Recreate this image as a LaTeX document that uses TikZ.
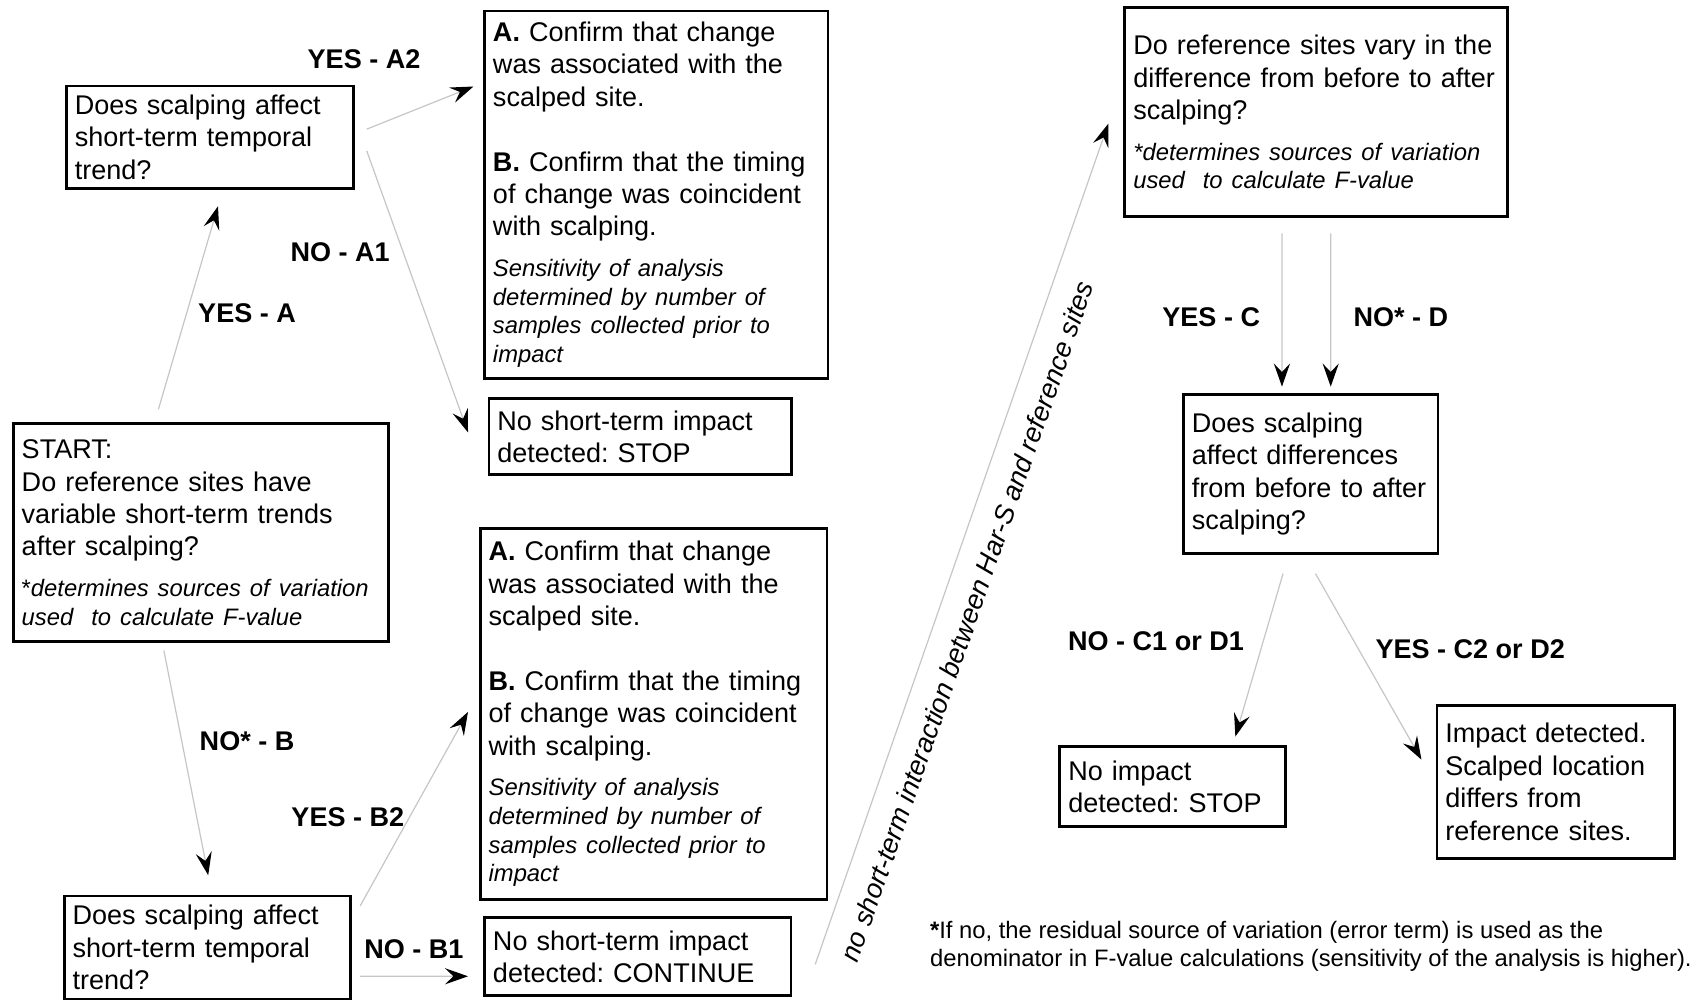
\documentclass[tikz,border=0pt]{standalone}
\usepackage{fontspec}
\setmainfont{Liberation Sans}
\usetikzlibrary{arrows.meta,positioning}

\newcommand{\itnote}{\fontsize{8.8}{10.6}\selectfont\itshape}
\hyphenpenalty=10000
\exhyphenpenalty=10000
\frenchspacing

\begin{document}
\begin{tikzpicture}[
    font=\fontsize{10}{12}\selectfont,
    qbox/.style={draw, line width=1pt, align=left, anchor=north west, inner xsep=0.11cm, inner ysep=0.05cm},
    lab/.style={font=\fontsize{10}{12}\selectfont\bfseries},
    flow/.style={draw=gray!45, line width=0.45pt, -{Stealth[length=3mm,width=2.1mm,inset=1.1mm,black]}}
  ]
  \useasboundingbox (0,0) rectangle (22.09,13.0);

  % --- Left: start and the two short-term questions ---
  \node[qbox, text width=4.654cm, minimum height=2.831cm] (start) at (0.155,7.508)
    {START:\\ Do reference sites have\\ variable short-term trends\\ after scalping?\par\vspace{4.4pt}%
     {\itnote{\upshape *}determines sources of variation\\ used\ \ to calculate F-value\par}};
  \node[qbox, text width=3.513cm, minimum height=1.338cm] (q1) at (0.845,11.901)
    {Does scalping affect\\ short-term temporal\\ trend?};
  \node[qbox, text width=3.499cm, minimum height=1.338cm] (q2) at (0.817,1.366)
    {Does scalping affect\\ short-term temporal\\ trend?};

  % --- Middle: what to confirm, and the short-term outcomes ---
  \node[qbox, text width=4.246cm, minimum height=4.775cm] (confA) at (6.282,12.875)
    {\textbf{A.} Confirm that change\\ was associated with the\\ scalped site.\\[12pt]
     \textbf{B.} Confirm that the timing\\ of change was coincident\\ with scalping.\par\vspace{4.4pt}%
     {\itnote Sensitivity of analysis\\ determined by number of\\ samples collected prior to\\ impact\par}};
  \node[qbox, text width=3.71cm, minimum height=0.986cm] (stopA) at (6.339,7.832)
    {No short-term impact\\ detected: STOP};
  \node[qbox, text width=4.288cm, minimum height=4.817cm] (confB) at (6.226,6.142)
    {\textbf{A.} Confirm that change\\ was associated with the\\ scalped site.\\[12pt]
     \textbf{B.} Confirm that the timing\\ of change was coincident\\ with scalping.\par\vspace{4.4pt}%
     {\itnote Sensitivity of analysis\\ determined by number of\\ samples collected prior to\\ impact\par}};
  \node[qbox, text width=3.766cm, minimum height=1.014cm] (contB) at (6.282,1.085)
    {No short-term impact\\ detected: CONTINUE};

  % --- Right: before/after differences ---
  \node[qbox, text width=4.752cm, minimum height=2.719cm] (refvary) at (14.607,12.917)
    {Do reference sites vary in the\\ difference from before to after\\ scalping?\par\vspace{4.4pt}%
     {\itnote *determines sources of variation\\ used\ \ to calculate F-value\par}};
  \node[qbox, text width=3.09cm, minimum height=2.071cm] (diff) at (15.368,7.888)
    {Does scalping\\ affect differences\\ from before to after\\ scalping?};
  \node[qbox, text width=2.71cm, minimum height=1.042cm] (noimp) at (13.762,3.310)
    {No impact\\ detected: STOP};
  \node[qbox, text width=2.865cm, minimum height=1.986cm] (impact) at (18.664,3.845)
    {Impact detected.\\ Scalped location\\ differs from\\ reference sites.};

  % --- answer labels ---
  \node[lab] (lA2) at (4.733,12.227) {YES - A2};
  \node[lab] (lA1) at (4.423,9.719) {NO - A1};
  \node[lab] (lA) at (3.212,8.931) {YES - A};
  \node[lab] (lB) at (3.212,3.367) {NO* - B};
  \node[lab] (lB2) at (4.522,2.381) {YES - B2};
  \node[lab] (lB1) at (5.381,0.662) {NO - B1};
  \node[lab] (lC) at (15.748,8.874) {YES - C};
  \node[lab] (lD) at (18.213,8.874) {NO* - D};
  \node[lab] (lCD1) at (15.030,4.662) {NO - C1 or D1};
  \node[lab] (lCD2) at (19.115,4.564) {YES - C2 or D2};

  % footnote
  \node[anchor=west, inner sep=0pt, align=left, font=\fontsize{8.8}{10.4}\selectfont] (fnote) at (12.086,0.690)
    {\textbf{*}If no, the residual source of variation (error term) is used as the\\
     denominator in F-value calculations (sensitivity of the analysis is higher).};

  % --- connectors ---
  \draw[flow] ([xshift=-0.55cm,yshift=0.17cm]start.north) -- ([xshift=0.105cm,yshift=-0.21cm]q1.south);
  \draw[flow] ([xshift=0.155cm,yshift=0.106cm]q1.east) -- ([xshift=-0.126cm,yshift=-1.0cm]confA.north west);
  \draw[flow] ([xshift=0.155cm,yshift=-0.176cm]q1.east) -- ([xshift=-0.254cm,yshift=0.056cm]stopA.west);
  \draw[flow] ([xshift=-0.479cm,yshift=-0.099cm]start.south) -- ([xshift=0.013cm,yshift=0.254cm]q2.north);
  \draw[flow] ([xshift=0.112cm,yshift=0.543cm]q2.east) -- ([xshift=-0.141cm,yshift=0.028cm]confB.west);
  \draw[flow] ([xshift=0.112cm,yshift=-0.373cm]q2.east) -- ([xshift=-0.197cm,yshift=-0.254cm]contB.west);
  \draw[flow] ([xshift=0.296cm,yshift=-0.099cm]contB.east)
    -- node[sloped, pos=0.42, below=0.14cm, font=\fontsize{10}{12}\selectfont\itshape] (nointer)
       {no short-term interaction between Har-S and reference sites}
       ([xshift=-0.197cm,yshift=-0.148cm]refvary.west);
  \draw[flow] ([xshift=-0.444cm,yshift=-0.197cm]refvary.south) -- ([xshift=-0.373cm,yshift=0.085cm]diff.north);
  \draw[flow] ([xshift=0.19cm,yshift=-0.197cm]refvary.south) -- ([xshift=0.261cm,yshift=0.085cm]diff.north);
  \draw[flow] ([xshift=-0.359cm,yshift=-0.24cm]diff.south) -- ([xshift=0.817cm,yshift=0.113cm]noimp.north);
  \draw[flow] ([xshift=0.063cm,yshift=-0.24cm]diff.south) -- ([xshift=-0.183cm,yshift=0.289cm]impact.west);

\end{tikzpicture}
\end{document}
